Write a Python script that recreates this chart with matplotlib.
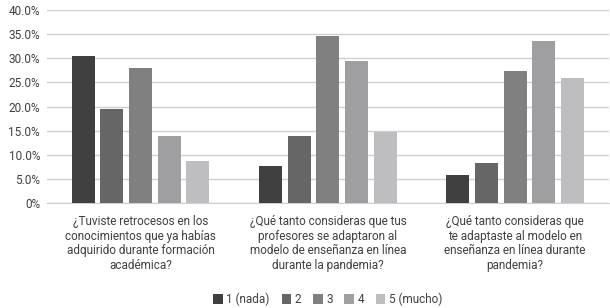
import numpy as np
import matplotlib.pyplot as plt
from matplotlib.ticker import FuncFormatter

plt.rcParams['font.family'] = ['Roboto', 'DejaVu Sans']

questions = [
    '¿Tuviste retrocesos en los\nconocimientos que ya habías\nadquirido durante formación\nacadémica?',
    '¿Qué tanto consideras que tus\nprofesores se adaptaron al\nmodelo de enseñanza en línea\ndurante la pandemia?',
    '¿Qué tanto consideras que\nte adaptaste al modelo en\nenseñanza en línea durante\npandemia?',
]
levels = ['1 (nada)', '2', '3', '4', '5 (mucho)']
nada = [30.5, 7.7, 5.8]
dos = [19.5, 13.9, 8.3]
tres = [28.0, 34.6, 27.4]
cuatro = [13.9, 29.5, 33.6]
mucho = [8.7, 14.8, 25.9]
series = [nada, dos, tres, cuatro, mucho]
colors = ['#404040', '#666666', '#808080', '#9f9fa2', '#bebec1']

fig = plt.figure(figsize=(6.1, 3.08), dpi=100)
ax = fig.add_axes([0.077, 0.341, 0.921, 0.626])

x = np.arange(len(questions))
pitch = 0.153
width = 0.123
for i, vals in enumerate(series):
    ax.bar(x + (i - 2) * pitch, vals, width, color=colors[i], label=levels[i], zorder=3)

ax.set_xlim(-0.5, 2.5)
ax.set_ylim(0, 40)
ax.set_yticks(np.arange(0, 41, 5))
ax.yaxis.set_major_formatter(FuncFormatter(lambda v, p: '0%' if v == 0 else '%.1f%%' % v))
ax.grid(axis='y', color='#d0d0d0', linewidth=1, zorder=0)
for s in ['top', 'right', 'left']:
    ax.spines[s].set_visible(False)
ax.spines['bottom'].set_color('#d0d0d0')
ax.tick_params(length=0, labelsize=8.5, colors='#404040', pad=5)
ax.set_xticks(x)
ax.set_xticklabels(questions, fontsize=8.5, color='#404040', linespacing=1.15)
ax.tick_params(axis='x', pad=9)

ax.legend(loc='center', bbox_to_anchor=(0.5, -0.5), ncol=5, frameon=False,
          fontsize=8.5, handlelength=0.8, handleheight=0.8, handletextpad=0.3,
          columnspacing=1.0, labelcolor='#404040')

fig.savefig('out.png', dpi=100)
